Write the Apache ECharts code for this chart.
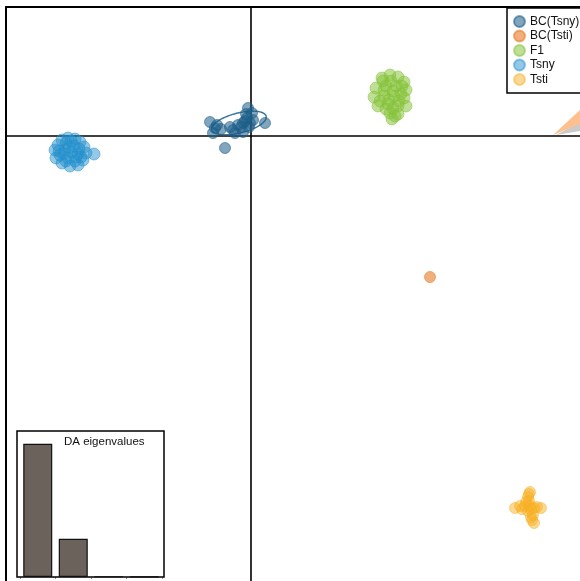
<!DOCTYPE html>
<html>
<head>
<meta charset="utf-8">
<script src="https://cdn.jsdelivr.net/npm/echarts@6/dist/echarts.min.js"></script>
<style>html,body{margin:0;padding:0;background:#fff}#c{width:580px;height:581px}</style>
</head>
<body>
<div id="c"></div>
<script>
// ---- data (discriminant function scores) ----
var groups = ['BC(Tsny)', 'BC(Tsti)', 'F1', 'Tsny', 'Tsti'];
var bcTsny = [[-0.82,0.28],[-0.72,0.16],[-0.76,0.06],[-0.52,-0.24],[-0.36,0.12],[-0.26,0.22],[-0.16,0.26],[-0.06,0.56],[0.02,0.46],[-0.02,0.26],[0.28,0.26],[-0.16,0.08],[-0.32,0.06],[-0.42,0.18],[0.04,0.32],[-0.08,0.36],[-0.10,0.44],[-0.20,0.18],[-0.04,0.18],[-0.60,0.14],[-0.68,0.22],[-0.12,0.30]];
var bcTsti = [[3.58,-2.82]];
var f1 = [[2.62,1.16],[2.78,1.22],[2.94,1.18],[3.06,1.08],[2.50,0.96],[2.70,1.00],[2.90,1.00],[3.10,0.92],[2.46,0.78],[2.66,0.80],[2.86,0.80],[3.06,0.76],[2.54,0.60],[2.74,0.64],[2.94,0.60],[3.10,0.60],[2.78,0.46],[2.94,0.44],[2.82,0.34],[2.70,0.54],[2.80,1.10],[2.66,0.92],[2.84,0.90],[3.00,0.84],[2.58,0.70],[2.76,0.72],[2.96,0.70],[2.84,0.56],[2.88,0.40],[2.64,1.10],[3.02,1.00]];
var tsny = [[-3.86,-0.18],[-3.78,-0.08],[-3.66,-0.04],[-3.52,-0.06],[-3.42,-0.12],[-3.34,-0.22],[-3.30,-0.34],[-3.36,-0.48],[-3.46,-0.58],[-3.62,-0.60],[-3.78,-0.54],[-3.90,-0.44],[-3.92,-0.28],[-3.72,-0.28],[-3.58,-0.32],[-3.46,-0.36],[-3.66,-0.44],[-3.54,-0.20],[-3.82,-0.38],[-3.14,-0.36],[-3.70,-0.14],[-3.60,-0.10],[-3.44,-0.26],[-3.40,-0.42],[-3.52,-0.50],[-3.70,-0.50],[-3.84,-0.30],[-3.64,-0.22],[-3.50,-0.42],[-3.74,-0.36]];
var tsti = [[5.58,-7.12],[5.54,-7.22],[5.50,-7.32],[5.38,-7.40],[5.28,-7.44],[5.58,-7.40],[5.72,-7.42],[5.80,-7.44],[5.54,-7.50],[5.64,-7.58],[5.62,-7.68],[5.66,-7.74],[5.42,-7.46],[5.56,-7.30],[5.60,-7.46],[5.48,-7.40],[5.66,-7.44],[5.60,-7.62],[5.56,-7.16]];
// inertia ellipse of BC(Tsny): [cx, cy, semi-axis a, semi-axis b, angle in degrees]
var bcTsnyEllipse = [-0.24, 0.26, 0.56, 0.2, 14];
// DA eigenvalues inset
var eigLabels = ['1', '2', '3', '4'];
var eigValues = [1460, 418, 6, 2];

var colors = {
  'BC(Tsny)': 'rgba(28,95,138,0.7)',
  'BC(Tsti)': 'rgba(232,132,52,0.8)',
  'F1': 'rgba(134,194,58,0.66)',
  'Tsny': 'rgba(36,144,204,0.62)',
  'Tsti': 'rgba(246,176,34,0.6)'
};

var chart = echarts.init(document.getElementById('c'), null, {renderer: 'canvas'});

function scatter(name, data, size) {
  return {
    name: name, type: 'scatter', xAxisIndex: 0, yAxisIndex: 0,
    data: data, symbolSize: size,
    itemStyle: {color: colors[name], borderColor: colors[name], borderWidth: 1},
    emphasis: {disabled: true}, z: 3
  };
}

var series = [
  scatter('BC(Tsny)', bcTsny, 11),
  scatter('BC(Tsti)', bcTsti, 11),
  scatter('F1', f1, 12),
  scatter('Tsny', tsny, 12),
  scatter('Tsti', tsti, 11)
];
// zero lines
series[0].markLine = {
  silent: true, symbol: 'none', label: {show: false},
  lineStyle: {color: '#000', width: 1.6, type: 'solid'},
  data: [{xAxis: 0}, {yAxis: 0}], z: 1
};
// ellipse
series.push({
  type: 'custom', xAxisIndex: 0, yAxisIndex: 0, silent: true, z: 4,
  data: [bcTsnyEllipse],
  renderItem: function (params, api) {
    var e = bcTsnyEllipse, pts = [], ang = e[4] * Math.PI / 180;
    for (var i = 0; i <= 72; i++) {
      var t = i / 72 * 2 * Math.PI;
      var dx = e[2] * Math.cos(t), dy = e[3] * Math.sin(t);
      pts.push(api.coord([e[0] + dx * Math.cos(ang) - dy * Math.sin(ang), e[1] + dx * Math.sin(ang) + dy * Math.cos(ang)]));
    }
    return {type: 'polyline', shape: {points: pts}, style: {stroke: 'rgba(28,95,138,0.85)', lineWidth: 1.5, fill: null}};
  }
});
// eigenvalue bars
series.push({
  type: 'bar', xAxisIndex: 1, yAxisIndex: 1, data: eigValues, barWidth: 29,
  itemStyle: {color: '#6b625c', borderColor: '#111', borderWidth: 1.2},
  emphasis: {disabled: true}, z: 5
});

chart.setOption({
  animation: false,
  backgroundColor: '#fff',
  title: {
    text: 'DA eigenvalues', left: 64, top: 436, padding: 0,
    textStyle: {fontSize: 11.5, fontWeight: 'normal', color: '#111', fontFamily: 'Liberation Sans'}
  },
  legend: {
    data: groups, orient: 'vertical', left: 513, top: 15, icon: 'circle',
    itemWidth: 11, itemHeight: 11, itemGap: 1.5, padding: 0,
    textStyle: {fontSize: 12, color: '#111', fontFamily: 'Liberation Sans', lineHeight: 11},
    selectedMode: false
  },
  grid: [
    {left: 6, top: 7, width: 574, height: 574},
    {left: 20, top: 431, width: 142, height: 146, z: 5}
  ],
  xAxis: [
    {type: 'value', gridIndex: 0, min: -4.9, max: 6.58, position: 'top',
     axisLine: {show: true, onZero: false, lineStyle: {color: '#000', width: 2}},
     axisTick: {show: false}, axisLabel: {show: false}, splitLine: {show: false}},
    {type: 'category', gridIndex: 1, data: eigLabels,
     axisLine: {show: false}, axisTick: {show: true, length: 2, inside: false, lineStyle: {color: '#999'}},
     axisLabel: {show: false}, splitLine: {show: false}}
  ],
  yAxis: [
    {type: 'value', gridIndex: 0, min: -8.9, max: 2.58,
     axisLine: {show: true, onZero: false, lineStyle: {color: '#000', width: 2}},
     axisTick: {show: false}, axisLabel: {show: false}, splitLine: {show: false}},
    {type: 'value', gridIndex: 1, min: 0, max: 1600, show: false}
  ],
  graphic: [
    {type: 'rect', shape: {x: 17, y: 431, width: 147, height: 146}, style: {fill: '#fff', stroke: '#000', lineWidth: 1.5}, z: 4},
    {type: 'rect', shape: {x: 507, y: 8, width: 120, height: 85}, style: {fill: '#fff', stroke: '#000', lineWidth: 1.5}, z: 4},
    {type: 'polygon', shape: {points: [[556,135],[580,122],[580,131]]}, style: {fill: 'rgba(160,160,160,0.55)'}, z: 4},
    {type: 'polygon', shape: {points: [[553,135],[580,110],[580,124]]}, style: {fill: '#fdc08e'}, z: 4}
  ],
  series: series
});
</script>
</body>
</html>
